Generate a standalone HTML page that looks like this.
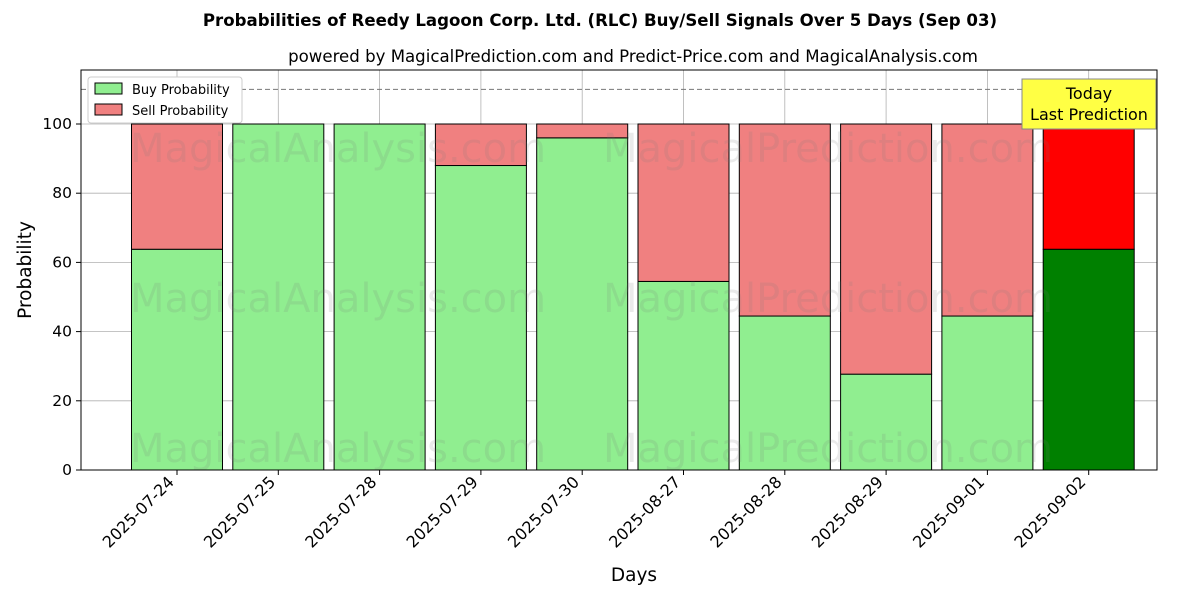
<!DOCTYPE html>
<html><head><meta charset="utf-8"><style>body{margin:0;background:#fff}svg{font-family:"DejaVu Sans","Liberation Sans",sans-serif}</style></head>
<body>
<svg id="chart" width="1200" height="600" xmlns="http://www.w3.org/2000/svg">
<text x="600" y="26" text-anchor="middle" font-size="16.6" font-weight="bold">Probabilities of Reedy Lagoon Corp. Ltd. (RLC) Buy/Sell Signals Over 5 Days (Sep 03)</text>
<text x="633" y="62" text-anchor="middle" font-size="16.6">powered by MagicalPrediction.com and Predict-Price.com and MagicalAnalysis.com</text>
<g id="grid"></g>
<g id="bars"></g>
<g fill="#7a7a7a" opacity="0.15" font-size="40">
<text x="130" y="162">MagicalAnalysis.com</text><text x="603" y="162">MagicalPrediction.com</text>
<text x="130" y="312">MagicalAnalysis.com</text><text x="603" y="312">MagicalPrediction.com</text>
<text x="130" y="462">MagicalAnalysis.com</text><text x="603" y="462">MagicalPrediction.com</text>
</g>
<line x1="81" x2="1157" y1="89.4" y2="89.4" stroke="#777" stroke-dasharray="5,3"/>
<rect x="81" y="70" width="1076" height="400" fill="none" stroke="#000"/>
<g id="axes"></g>
<text x="634" y="581" text-anchor="middle" font-size="18.5">Days</text>
<text transform="translate(31,270) rotate(-90)" text-anchor="middle" font-size="18.5">Probability</text>
<g>
<rect x="88" y="77" width="154" height="46" fill="#fff" stroke="#ccc" rx="3"/>
<rect x="95" y="83" width="27" height="11" fill="#90ee90" stroke="#000"/>
<text x="132" y="94" font-size="13">Buy Probability</text>
<rect x="95" y="104" width="27" height="11" fill="#f08080" stroke="#000"/>
<text x="132" y="115" font-size="13">Sell Probability</text>
</g>
<g>
<rect x="1022" y="79" width="134" height="50" fill="#ffff44" stroke="#888"/>
<text x="1089" y="99" text-anchor="middle" font-size="16">Today</text>
<text x="1089" y="120" text-anchor="middle" font-size="16">Last Prediction</text>
</g>
</svg>
<script>
const categories=["2025-07-24","2025-07-25","2025-07-28","2025-07-29","2025-07-30","2025-08-27","2025-08-28","2025-08-29","2025-09-01","2025-09-02"];
const buyValues=[63.8,100,100,88,96,54.5,44.5,27.7,44.5,63.8];
const sellValues=[36.2,0,0,12,4,45.5,55.5,72.3,55.5,36.2];
const yTicks=[0,20,40,60,80,100];
const NS="http://www.w3.org/2000/svg";
const xs=i=>177+i*101.3;
const ys=v=>470-v*3.46;
const bw=91;
function mk(t,a,p){const e=document.createElementNS(NS,t);for(const k in a)e.setAttribute(k,a[k]);p.appendChild(e);return e;}
const grid=document.getElementById('grid'),bars=document.getElementById('bars'),axes=document.getElementById('axes');
yTicks.forEach(v=>{
 const l=mk('line',{x1:81,x2:1157,y1:ys(v),y2:ys(v),stroke:'#b0b0b0','stroke-width':0.8},grid);
 
 
 mk('line',{x1:76,x2:81,y1:ys(v),y2:ys(v),stroke:'#000'},axes);
 const t=mk('text',{x:72,y:ys(v)+5,'text-anchor':'end','font-size':15.5},axes);t.textContent=v;
 
 
});
categories.forEach((c,i)=>{
 const x=xs(i);
 const g=mk('line',{x1:x,x2:x,y1:70,y2:470,stroke:'#b0b0b0','stroke-width':0.8},grid);
 
 
 const last=i===categories.length-1;
 const b=mk('rect',{x:x-bw/2,y:ys(buyValues[i]),width:bw,height:ys(0)-ys(buyValues[i]),fill:last?'#008000':'#90ee90',stroke:'#000'},bars);
 
 
 const s=mk('rect',{x:x-bw/2,y:ys(buyValues[i]+sellValues[i]),width:bw,height:ys(buyValues[i])-ys(buyValues[i]+sellValues[i]),fill:last?'#ff0000':'#f08080',stroke:'#000'},bars);
 
 
 mk('line',{x1:x,x2:x,y1:470,y2:475,stroke:'#000'},axes);
 const tx=x-2,ty=483;
 const t=mk('text',{x:tx,y:ty,'text-anchor':'end','font-size':16,transform:`rotate(-45 ${tx} ${ty})`},axes);t.textContent=c;
 
 
});
</script>
</body></html>
